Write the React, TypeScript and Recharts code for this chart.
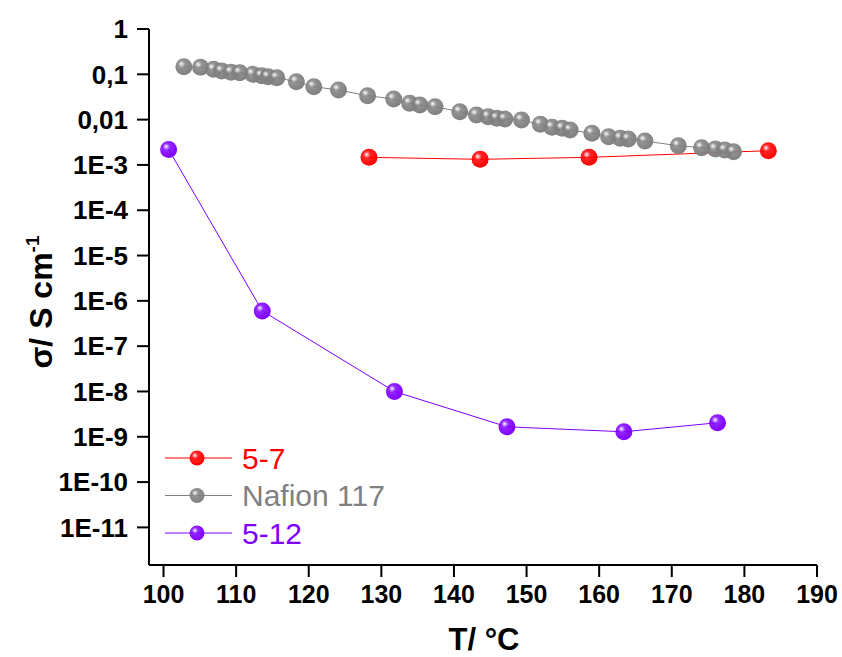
import React from "react"
import { Label, Legend, Line, LineChart, XAxis, YAxis } from "recharts"

// temperatures (°C) and conductivities (S/cm)
const temp57 = [128.3, 143.6, 158.6, 183.3]
const sigma57 = [1.47e-3, 1.33e-3, 1.47e-3, 2.06e-3]

const tempNafion = [
    102.8, 105.1, 106.9, 108.0, 109.3, 110.5, 112.3, 113.5, 114.4, 115.6,
    118.3, 120.7, 124.1, 128.1, 131.7, 133.9, 135.3, 137.4, 140.8, 143.1,
    144.7, 145.9, 147.0, 149.3, 151.9, 153.5, 154.9, 156.0, 159.0, 161.3,
    162.9, 164.0, 166.3, 170.9, 174.1, 176.0, 177.3, 178.5,
]
const sigmaNafion = [
    0.147, 0.143, 0.129, 0.118, 0.111, 0.108, 0.1, 0.093, 0.0885, 0.084,
    0.0687, 0.0532, 0.045, 0.0337, 0.0285, 0.0229, 0.021, 0.0193, 0.0149, 0.0126,
    0.0116, 0.0107, 0.0103, 0.0098, 0.00787, 0.00679, 0.00643, 0.00589, 0.00499, 0.0042,
    0.00387, 0.00373, 0.00337, 0.00265, 0.0024, 0.00224, 0.00213, 0.00195,
]

const temp512 = [100.7, 113.6, 131.8, 147.3, 163.4, 176.3]
const sigma512 = [2.2e-3, 6.0e-7, 1.0e-8, 1.66e-9, 1.29e-9, 2.04e-9]

const xTicks = [100, 110, 120, 130, 140, 150, 160, 170, 180, 190]
const yTicks = [1, 0.1, 0.01, 1e-3, 1e-4, 1e-5, 1e-6, 1e-7, 1e-8, 1e-9, 1e-10, 1e-11]
const yTickLabels = ["1", "0,1", "0,01", "1E-3", "1E-4", "1E-5", "1E-6", "1E-7", "1E-8", "1E-9", "1E-10", "1E-11"]

const series = [
    { name: "5-7", color: "#ff0000", id: "ball-red", temps: temp57, sigmas: sigma57 },
    { name: "Nafion 117", color: "#808080", id: "ball-gray", temps: tempNafion, sigmas: sigmaNafion },
    { name: "5-12", color: "#8000ff", id: "ball-purple", temps: temp512, sigmas: sigma512 },
]

const FONT = "'Liberation Sans', Arial, sans-serif"

const toRows = (temps: number[], sigmas: number[]) => temps.map((t, i) => ({ T: t, sigma: sigmas[i] }))

function Gradients() {
    return (
        <defs>
            {series.map((s) => (
                <radialGradient key={s.id} id={s.id} cx="0.42" cy="0.4" r="0.6" fx="0.35" fy="0.32">
                    <stop offset="0%" stopColor="#ffffff" />
                    <stop offset="35%" stopColor={s.color} stopOpacity={0.85} />
                    <stop offset="100%" stopColor={s.color} />
                </radialGradient>
            ))}
        </defs>
    )
}

function renderLegend() {
    return (
        <svg width={260} height={120} style={{ overflow: "visible" }}>
            {series.map((s, i) => {
                const y = 28 + i * 37.5
                return (
                    <g key={s.name}>
                        <line x1={15} x2={82} y1={y} y2={y} stroke={s.color} strokeWidth={1} />
                        <circle cx={47} cy={y} r={7.5} fill={`url(#${s.id})`} />
                        <text x={92} y={y + 10.5} fontFamily={FONT} fontSize={30} fill={s.color}>
                            {s.name}
                        </text>
                    </g>
                )
            })}
        </svg>
    )
}

export default function App() {
    return (
        <div style={{ position: "absolute", left: 0, top: 0, width: 842, height: 657, background: "#fff" }}>
            <LineChart width={842} height={657} margin={{ top: 29, right: 25, bottom: 0, left: 0 }}>
                <Gradients />
                <XAxis
                    dataKey="T"
                    type="number"
                    domain={[98, 190]}
                    ticks={xTicks}
                    allowDataOverflow
                    height={92}
                    stroke="#000"
                    strokeWidth={2}
                    tickSize={12}
                    tickMargin={8}
                    tick={{ fill: "#000", fontSize: 25, fontWeight: "bold", fontFamily: FONT }}
                >
                    <Label
                        content={() => (
                            <text x={484} y={650} textAnchor="middle" fontFamily={FONT} fontWeight="bold" fontSize={31} fill="#000">
                                T/ °C
                            </text>
                        )}
                    />
                </XAxis>
                <YAxis
                    dataKey="sigma"
                    scale="log"
                    domain={[Math.pow(10, -11.83), 1]}
                    ticks={yTicks}
                    allowDataOverflow
                    width={149}
                    stroke="#000"
                    strokeWidth={2}
                    tickSize={12}
                    tickMargin={9}
                    tickFormatter={(v: number) => yTickLabels[yTicks.indexOf(v)] ?? String(v)}
                    tick={{ fill: "#000", fontSize: 26, fontWeight: "bold", fontFamily: FONT }}
                >
                    <Label
                        content={() => (
                            <text
                                x={52}
                                y={302}
                                transform="rotate(-90 52 302)"
                                textAnchor="middle"
                                fontFamily={FONT}
                                fontWeight="bold"
                                fontSize={32}
                                fill="#000"
                            >
                                σ/ S cm
                                <tspan fontSize={19} dy={-13}>-1</tspan>
                            </text>
                        )}
                    />
                </YAxis>
                <Legend
                    layout="vertical"
                    align="center"
                    verticalAlign="middle"
                    content={renderLegend}
                    wrapperStyle={{ left: 150, top: 430, width: 260, height: 120 }}
                />
                {series.map((s) => (
                    <Line
                        key={s.name}
                        name={s.name}
                        data={toRows(s.temps, s.sigmas)}
                        dataKey="sigma"
                        stroke={s.color}
                        strokeWidth={1}
                        isAnimationActive={false}
                        dot={(props: any) => (
                            <circle key={`${s.id}-${props.index}`} cx={props.cx} cy={props.cy} r={8.5} fill={`url(#${s.id})`} />
                        )}
                        activeDot={false}
                    />
                ))}
            </LineChart>
        </div>
    )
}
